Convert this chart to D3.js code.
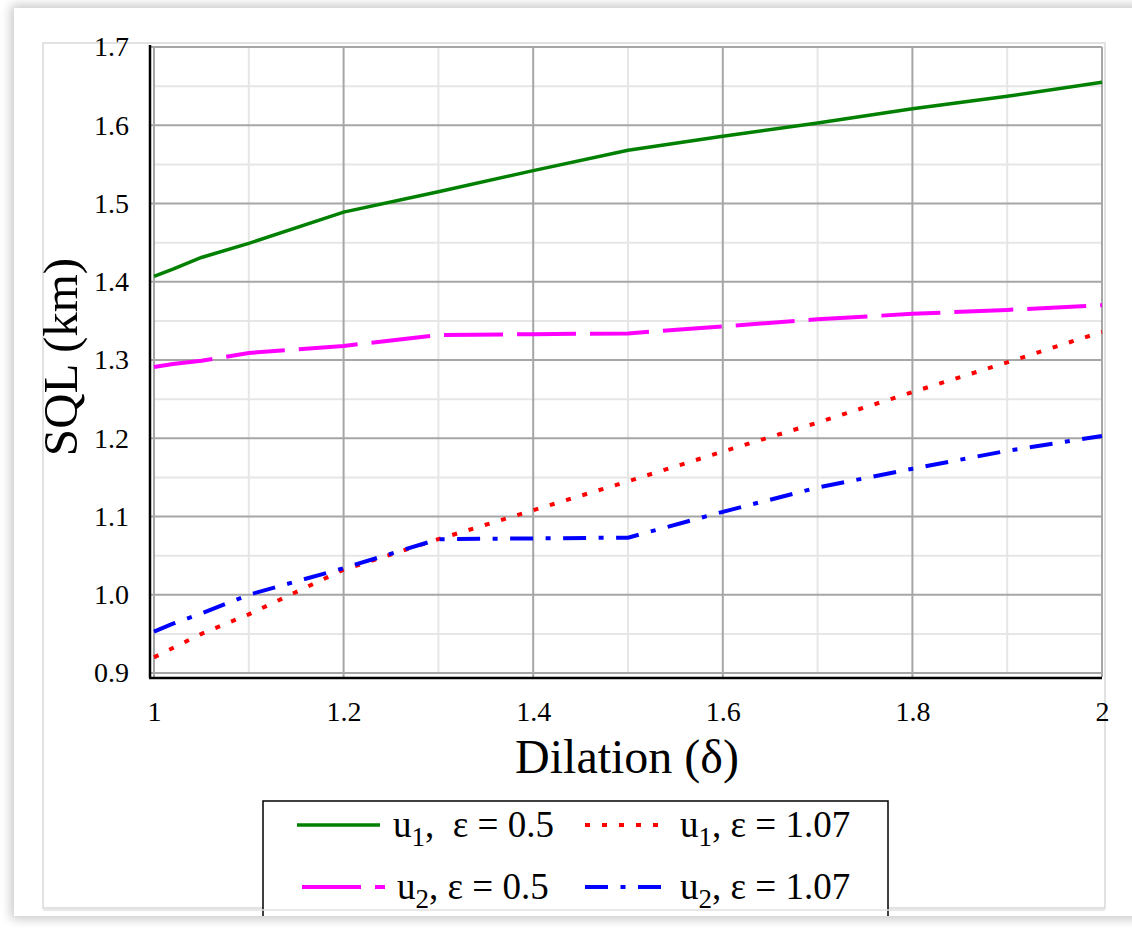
<!DOCTYPE html>
<html>
<head>
<meta charset="utf-8">
<script src="https://cdn.jsdelivr.net/npm/d3@7"></script>
<style>
  body { margin: 0; background: #fff; width: 1132px; height: 941px; overflow: hidden; }
  #card { position: absolute; left: 14px; top: 8px; width: 1130px; height: 908px;
          background: #fff; box-shadow: 0 0 10px 3px rgba(0,0,0,0.22); overflow: hidden; }
  svg { position: absolute; left: -14px; top: -8px; }
  text { font-family: "Liberation Serif", "Times New Roman", serif; fill: #000; }
</style>
</head>
<body>
<div id="card"><svg width="1132" height="941"></svg></div>
<script>
// dilation values on the x axis
var dilation = [1, 1.02, 1.05, 1.1, 1.2, 1.3, 1.4, 1.5, 1.6, 1.7, 1.8, 1.9, 2];

// SQL (km) per series
var u1Eps05  = [1.407, 1.416, 1.431, 1.449, 1.489, 1.515, 1.542, 1.568, 1.586, 1.603, 1.621, 1.637, 1.655];
var u1Eps107 = [0.920, 0.932, 0.950, 0.975, 1.032, 1.071, 1.108, 1.145, 1.183, 1.220, 1.259, 1.297, 1.336];
var u2Eps05  = [1.291, 1.295, 1.299, 1.309, 1.318, 1.332, 1.333, 1.334, 1.343, 1.352, 1.359, 1.364, 1.370];
var u2Eps107 = [0.953, 0.963, 0.976, 1.000, 1.034, 1.071, 1.072, 1.073, 1.106, 1.137, 1.161, 1.184, 1.203];

var xTicks = [1, 1.2, 1.4, 1.6, 1.8, 2];
var yTicks = [0.9, 1.0, 1.1, 1.2, 1.3, 1.4, 1.5, 1.6, 1.7];

var series = [
    {name: "u1e05",  sub: "1", label: ",  \u03b5 = 0.5",  values: u1Eps05,  color: "#008000", dash: null,              width: 3.5, row: 0, col: 0},
    {name: "u1e107", sub: "1", label: ", \u03b5 = 1.07",  values: u1Eps107, color: "#ff0000", dash: "5,12",            width: 4,   row: 0, col: 1},
    {name: "u2e05",  sub: "2", label: ", \u03b5 = 0.5",   values: u2Eps05,  color: "#ff00ff", dash: "59,14",           width: 4,   row: 1, col: 0},
    {name: "u2e107", sub: "2", label: ", \u03b5 = 1.07",  values: u2Eps107, color: "#0000ff", dash: "23,12.5,5,12.5",  width: 4,   row: 1, col: 1}
];

var svg = d3.select("svg");

var x = d3.scaleLinear().domain([1, 2]).range([154, 1102]);
var y = d3.scaleLinear().domain([0.9, 1.7]).range([673, 47]);

// light frame round the chart area
svg.append("rect")
    .attr("x", 43).attr("y", 43)
    .attr("width", 1062).attr("height", 865)
    .attr("fill", "none").attr("stroke", "#d9d9d9").attr("stroke-width", 1.5);

// minor grid first, then major
var grid = svg.append("g");
grid.selectAll(".ymin").data(d3.range(0.95, 1.7, 0.1))
    .enter().append("line")
    .attr("x1", x(1)).attr("x2", x(2))
    .attr("y1", function(d) { return y(d); }).attr("y2", function(d) { return y(d); })
    .attr("stroke", "#e6e6e6").attr("stroke-width", 2);
grid.selectAll(".xmin").data([1.1, 1.3, 1.5, 1.7, 1.9])
    .enter().append("line")
    .attr("y1", y(0.9)).attr("y2", y(1.7))
    .attr("x1", function(d) { return x(d); }).attr("x2", function(d) { return x(d); })
    .attr("stroke", "#e6e6e6").attr("stroke-width", 2);
grid.selectAll(".ymaj").data(yTicks)
    .enter().append("line")
    .attr("x1", x(1) - 4).attr("x2", x(2))
    .attr("y1", function(d) { return y(d); }).attr("y2", function(d) { return y(d); })
    .attr("stroke", "#a6a6a6").attr("stroke-width", 2);
grid.selectAll(".xmaj").data(xTicks)
    .enter().append("line")
    .attr("y1", y(0.9) + 4).attr("y2", y(1.7))
    .attr("x1", function(d) { return x(d); }).attr("x2", function(d) { return x(d); })
    .attr("stroke", "#a6a6a6").attr("stroke-width", 2);

// black axis lines, sitting a little outside the grid
svg.append("line")
    .attr("x1", x(1) - 4).attr("x2", x(1) - 4)
    .attr("y1", y(1.7) - 2).attr("y2", y(0.9) + 5)
    .attr("stroke", "#000").attr("stroke-width", 2.5);
svg.append("line")
    .attr("x1", x(1) - 5).attr("x2", x(2))
    .attr("y1", y(0.9) + 5).attr("y2", y(0.9) + 5)
    .attr("stroke", "#000").attr("stroke-width", 2.5);

// tick labels
var xAxis = svg.append("g")
    .attr("transform", "translate(0," + (y(0.9) + 25) + ")")
    .call(d3.axisBottom(x).tickValues(xTicks).tickSize(0)
        .tickFormat(function(d) { return d3.format("~g")(d); }));
xAxis.select(".domain").remove();
xAxis.selectAll("text").attr("font-size", 28).attr("dy", "0.71em")
    .style("font-family", "'Liberation Serif', serif");

var yAxis = svg.append("g")
    .attr("transform", "translate(" + 129 + ",0)")
    .call(d3.axisLeft(y).tickValues(yTicks).tickSize(0).tickFormat(d3.format(".1f")));
yAxis.select(".domain").remove();
yAxis.selectAll("text").attr("font-size", 28).attr("x", 0)
    .style("font-family", "'Liberation Serif', serif");

// axis titles
svg.append("text")
    .attr("x", 627).attr("y", 773)
    .attr("text-anchor", "middle").attr("font-size", 48)
    .text("Dilation (\u03b4)");
svg.append("text")
    .attr("transform", "translate(77,357) rotate(-90)")
    .attr("text-anchor", "middle").attr("font-size", 49)
    .text("SQL (km)");

// series lines
var line = d3.line()
    .x(function(d, i) { return x(dilation[i]); })
    .y(function(d) { return y(d); });

svg.append("g").selectAll("path").data([series[0], series[2], series[1], series[3]])
    .enter().append("path")
    .attr("d", function(d) { return line(d.values); })
    .attr("fill", "none")
    .attr("stroke", function(d) { return d.color; })
    .attr("stroke-width", function(d) { return d.width; })
    .attr("stroke-dasharray", function(d) { return d.dash; });

// legend box, bottom edge is cut by the card
svg.append("rect")
    .attr("x", 263).attr("y", 801)
    .attr("width", 625).attr("height", 160)
    .attr("fill", "#fff").attr("stroke", "#000").attr("stroke-width", 1.5);
svg.append("line")
    .attr("x1", 43).attr("x2", 1105).attr("y1", 910).attr("y2", 910)
    .attr("stroke", "#e0e0e0").attr("stroke-width", 1.5);

var legX = [297, 585];
var legLen = [83, 77];
var legY = [825, 887];
var leg = svg.append("g").selectAll("g").data(series).enter().append("g");
leg.append("line")
    .attr("x1", function(d) { return legX[d.col] + (d.row === 1 && d.col === 0 ? 5 : 0); })
    .attr("x2", function(d) { return legX[d.col] + (d.row === 1 && d.col === 0 ? 5 : 0) + legLen[d.col]; })
    .attr("y1", function(d) { return legY[d.row]; })
    .attr("y2", function(d) { return legY[d.row]; })
    .attr("stroke", function(d) { return d.color; })
    .attr("stroke-width", function(d) { return d.width; })
    .attr("stroke-dasharray", function(d) { return d.dash; });
var lt = leg.append("text")
    .attr("x", function(d) { return d.col === 0 ? (d.row === 0 ? 393 : 397) : 680; })
    .attr("y", function(d) { return legY[d.row] + 12; })
    .attr("font-size", 37)
    .style("white-space", "pre");
lt.append("tspan").text("u");
lt.append("tspan").attr("dy", 9).attr("font-size", 27).text(function(d) { return d.sub; });
lt.append("tspan").attr("dy", -9).text(function(d) { return d.label; });
</script>
</body>
</html>
